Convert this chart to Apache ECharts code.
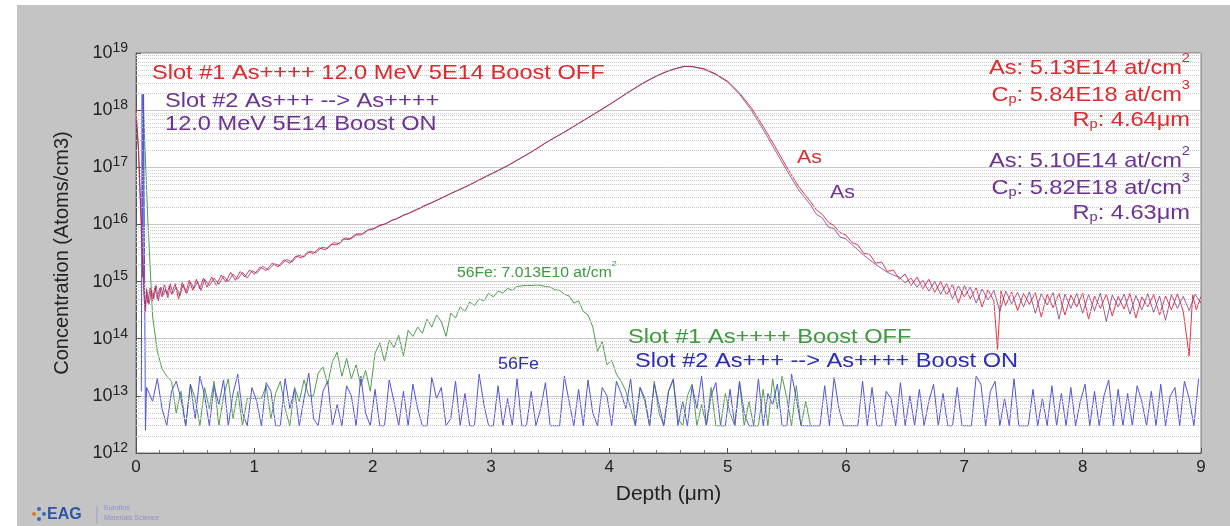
<!DOCTYPE html>
<html>
<head>
<meta charset="utf-8">
<title>As / 56Fe depth profile</title>
<script src="https://cdn.jsdelivr.net/npm/echarts@6/dist/echarts.min.js"></script>
<style>
  html, body { margin: 0; padding: 0; background: #fff; }
  #chart { width: 1230px; height: 526px; }
</style>
</head>
<body>
<div id="chart"></div>
<script>
// As profiles: [depth (um), concentration (atoms/cm3)]
var asSlot1 = [
  [0.00,1.0e18],[0.02,2.5e17],[0.04,2.0e16],[0.06,2.0e15],[0.07,6.0e14],[0.08,3.0e14],[0.09,6.5e14],
  [0.10,4.2e14],[0.12,7.8e14],[0.14,4.6e14],[0.16,8.2e14],[0.18,5.0e14],[0.20,7.6e14],[0.22,5.4e14],
  [0.24,9.0e14],[0.26,5.8e14],[0.28,8.4e14],[0.30,6.0e14],[0.33,9.2e14],[0.36,4.9e14],[0.39,9.6e14],
  [0.42,6.4e14],[0.45,1.05e15],[0.48,7.0e14],[0.51,1.1e15],[0.54,7.4e14],[0.57,1.15e15],[0.60,8.0e14],
  [0.64,1.2e15],[0.68,8.6e14],[0.72,1.3e15],[0.76,9.8e14],[0.80,1.45e15],[0.84,1.05e15],[0.88,1.5e15],
  [0.92,1.2e15],[0.96,1.6e15],[1.00,1.35e15],[1.05,1.8e15],[1.10,1.55e15],[1.15,2.1e15],[1.20,1.8e15],
  [1.25,2.4e15],[1.30,2.1e15],[1.35,2.8e15],[1.40,2.6e15],[1.45,3.3e15],[1.50,3.1e15],[1.55,3.9e15],
  [1.60,3.6e15],[1.65,4.5e15],[1.70,4.4e15],[1.75,5.6e15],[1.80,5.4e15],[1.85,6.6e15],[1.90,6.5e15],
  [1.95,7.9e15],[2.00,8.2e15],[2.05,9.5e15],[2.10,1.0e16],[2.15,1.15e16],[2.20,1.25e16],[2.25,1.42e16],
  [2.30,1.55e16],[2.35,1.75e16],[2.40,1.95e16],[2.45,2.2e16],[2.50,2.4e16],[2.60,3.0e16],[2.70,3.8e16],
  [2.80,4.7e16],[2.90,6.0e16],[3.00,7.6e16],[3.10,9.6e16],[3.20,1.25e17],[3.30,1.65e17],[3.40,2.2e17],
  [3.50,3.0e17],[3.60,3.9e17],[3.70,5.2e17],[3.80,7.0e17],[3.90,9.3e17],[4.00,1.25e18],[4.10,1.7e18],
  [4.20,2.3e18],[4.30,3.1e18],[4.40,4.0e18],[4.50,4.9e18],[4.60,5.6e18],[4.64,5.84e18],[4.70,5.8e18],
  [4.80,5.3e18],[4.90,4.3e18],[5.00,3.2e18],[5.10,2.0e18],[5.20,1.1e18],[5.30,5.2e17],[5.40,2.3e17],
  [5.50,1.0e17],[5.60,4.6e16],[5.70,2.5e16],[5.75,1.8e16],[5.80,1.5e16],[5.85,1.1e16],[5.90,9.5e15],
  [5.95,7.2e15],[6.00,6.5e15],[6.05,4.8e15],[6.10,4.4e15],[6.15,3.1e15],[6.20,3.0e15],[6.25,2.1e15],
  [6.30,2.2e15],[6.35,1.5e15],[6.40,1.6e15],[6.45,1.1e15],[6.50,1.35e15],[6.55,8.5e14],[6.60,1.2e15],
  [6.65,7.5e14],[6.70,1.1e15],[6.75,6.5e14],[6.80,1.0e15],[6.85,5.8e14],[6.90,9.0e14],[6.95,4.2e14],
  [7.00,8.5e14],[7.05,5.0e14],[7.10,7.8e14],[7.15,3.6e14],[7.20,7.2e14],[7.25,4.5e14],[7.28,6.5e13],
  [7.31,6.8e14],[7.35,3.8e14],[7.40,6.6e14],[7.45,3.1e14],[7.50,6.2e14],[7.55,4.0e14],[7.60,6.4e14],
  [7.65,2.4e14],[7.70,6.0e14],[7.75,3.5e14],[7.80,6.2e14],[7.85,2.6e14],[7.90,5.8e14],[7.95,3.6e14],
  [8.00,6.3e14],[8.05,2.2e14],[8.10,5.6e14],[8.15,3.4e14],[8.20,6.0e14],[8.25,2.5e14],[8.30,5.5e14],
  [8.35,3.3e14],[8.40,6.2e14],[8.45,2.3e14],[8.50,5.4e14],[8.55,3.6e14],[8.60,5.9e14],[8.65,2.6e14],
  [8.70,5.6e14],[8.75,3.2e14],[8.80,6.1e14],[8.85,3.0e14],[8.90,5.0e13],[8.93,5.8e14],[8.96,3.2e14],
  [9.00,5.5e14]
];

var asSlot2 = [
  [0.00,7.0e17],[0.02,2.0e17],[0.04,1.5e16],[0.06,1.2e15],[0.07,4.5e14],[0.08,3.8e14],[0.09,7.5e14],
  [0.11,4.0e14],[0.13,7.0e14],[0.15,5.0e14],[0.17,8.6e14],[0.19,4.6e14],[0.21,8.0e14],[0.23,5.8e14],
  [0.25,7.4e14],[0.27,5.2e14],[0.29,9.2e14],[0.31,6.2e14],[0.34,8.0e14],[0.37,5.6e14],[0.40,9.0e14],
  [0.43,6.2e14],[0.46,9.8e14],[0.49,7.6e14],[0.52,1.0e15],[0.55,7.0e14],[0.58,1.1e15],[0.62,8.4e14],
  [0.66,1.15e15],[0.70,9.0e14],[0.74,1.25e15],[0.78,1.0e15],[0.82,1.35e15],[0.86,1.1e15],[0.90,1.45e15],
  [0.94,1.15e15],[0.98,1.55e15],[1.02,1.4e15],[1.07,1.85e15],[1.12,1.6e15],[1.17,2.05e15],[1.22,1.9e15],
  [1.27,2.45e15],[1.32,2.2e15],[1.37,2.9e15],[1.42,2.7e15],[1.47,3.4e15],[1.52,3.2e15],[1.57,4.0e15],
  [1.62,3.8e15],[1.67,4.8e15],[1.72,4.6e15],[1.77,5.8e15],[1.82,5.6e15],[1.87,6.9e15],[1.92,6.8e15],
  [1.97,8.2e15],[2.02,8.5e15],[2.07,9.8e15],[2.12,1.05e16],[2.17,1.2e16],[2.22,1.3e16],[2.27,1.47e16],
  [2.32,1.6e16],[2.37,1.8e16],[2.42,2.0e16],[2.47,2.25e16],[2.55,2.7e16],[2.65,3.4e16],[2.75,4.2e16],
  [2.85,5.3e16],[2.95,6.8e16],[3.05,8.6e16],[3.15,1.1e17],[3.25,1.45e17],[3.35,1.9e17],[3.45,2.6e17],
  [3.55,3.4e17],[3.65,4.5e17],[3.75,6.0e17],[3.85,8.0e17],[3.95,1.08e18],[4.05,1.45e18],[4.15,2.0e18],
  [4.25,2.7e18],[4.35,3.5e18],[4.45,4.4e18],[4.55,5.3e18],[4.63,5.82e18],[4.70,5.75e18],[4.80,5.2e18],
  [4.90,4.2e18],[5.00,3.1e18],[5.10,1.9e18],[5.20,1.0e18],[5.30,4.6e17],[5.40,2.0e17],[5.50,8.8e16],
  [5.60,4.0e16],[5.70,2.2e16],[5.75,1.5e16],[5.80,1.3e16],[5.85,9.0e15],[5.90,8.4e15],[5.95,6.0e15],
  [6.00,5.6e15],[6.05,4.4e15],[6.10,3.6e15],[6.15,2.9e15],[6.20,2.4e15],[6.25,2.0e15],[6.30,1.7e15],
  [6.35,1.45e15],[6.40,1.3e15],[6.45,1.2e15],[6.50,9.5e14],[6.55,1.15e15],[6.60,8.0e14],[6.65,1.05e15],
  [6.70,6.8e14],[6.75,1.0e15],[6.80,6.0e14],[6.85,9.2e14],[6.90,5.0e14],[6.95,8.4e14],[7.00,5.4e14],
  [7.05,8.0e14],[7.10,4.2e14],[7.15,7.4e14],[7.20,4.8e14],[7.25,7.0e14],[7.30,3.0e14],[7.35,6.8e14],
  [7.40,4.1e14],[7.45,6.5e14],[7.50,3.6e14],[7.55,6.6e14],[7.60,2.8e14],[7.65,6.1e14],[7.70,3.9e14],
  [7.75,6.4e14],[7.80,2.2e14],[7.85,6.0e14],[7.90,3.4e14],[7.95,6.2e14],[8.00,2.8e14],[8.05,5.9e14],
  [8.10,3.1e14],[8.15,6.3e14],[8.20,2.0e14],[8.25,5.8e14],[8.30,3.6e14],[8.35,6.0e14],[8.40,2.7e14],
  [8.45,5.7e14],[8.50,3.2e14],[8.55,6.1e14],[8.60,2.9e14],[8.65,5.6e14],[8.70,2.1e14],[8.75,5.9e14],
  [8.80,3.4e14],[8.85,5.5e14],[8.90,3.1e14],[8.95,6.0e14],[9.00,4.2e14]
];

// 56Fe profiles on a regular depth grid, values in units of 1e12 atoms/cm3
var FE_UNIT = 1e12;
var feSlot1Start = 0.06, feSlot1Step = 0.04;
var feSlot1 = [
  1500000, 12000, 250, 60, 30, 22, 18, 5, 12, 3, 16, 9, 3, 14, 6, 18, 3, 10, 20, 4,
  12, 3, 9, 9, 9, 9, 15, 4, 11, 18, 6, 3, 14, 8, 19, 10, 10, 25, 32, 16,
  40, 58, 22, 45, 20, 35, 15, 28, 12, 55, 85, 40, 95, 70, 115, 50, 140, 110, 160, 125,
  220, 160, 260, 200, 110, 280, 230, 360, 300, 440, 380, 500, 460, 620, 540, 680, 630, 760, 700, 820,
  840, 860, 850, 870, 860, 820, 800, 720, 700, 600, 560, 420, 460, 300, 260, 160, 60, 90, 35, 42,
  24, 18, 12, 6, 3, 14, 8, 3, 18, 5, 3, 12, 20, 4, 3, 10, 16, 3, 7, 3,
  14, 3, 3, 11, 5, 3, 17, 3, 8, 3, 3, 13, 3, 20, 6, 22, 9, 3, 15, 3,
  8, 3
];

var feSlot2Head = [[0.045,12],[0.052,1900000],[0.058,1200],[0.064,1900000],[0.072,1900000],[0.08,2.5],[0.09,14]];
var feSlot2Start = 0.10, feSlot2Step = 0.04;
var feSlot2 = [
  14, 8, 20, 6, 3, 12, 18, 9, 3, 16, 4, 22, 10, 3, 15, 7, 19, 3, 11, 24, 5, 3, 14,
  8, 3, 17, 12, 3, 3, 20, 6, 13, 3, 9, 25, 4, 3, 12, 18, 3, 7, 3, 15, 10, 3, 22, 5, 3,
  13, 3, 3, 19, 8, 3, 12, 3, 16, 6, 3, 3, 21, 9, 14, 3, 4, 18, 3, 11, 3, 3, 24, 7, 3,
  3, 15, 3, 9, 3, 20, 3, 3, 12, 3, 6, 17, 3, 3, 3, 22, 8, 3, 13, 3, 19, 5, 3, 14, 10,
  3, 18, 11, 6, 20, 3, 14, 9, 3, 16, 7, 3, 12, 19, 3, 8, 3, 15, 6, 22, 3, 10, 17, 3, 3,
  13, 3, 18, 5, 3, 3, 20, 3, 11, 7, 16, 3, 3, 24, 9, 3, 3, 3, 3, 3, 15, 3, 21, 6, 3,
  3, 3, 3, 18, 3, 14, 3, 3, 12, 9, 3, 17, 3, 10, 3, 13, 3, 8, 16, 3, 11, 3, 3, 14, 3,
  3, 3, 22, 16, 3, 12, 18, 3, 9, 3, 20, 3, 3, 3, 13, 3, 9, 3, 15, 3, 11, 3, 14, 3, 8,
  16, 3, 12, 3, 10, 19, 3, 13, 3, 11, 3, 15, 8, 3, 12, 3, 16, 3, 10, 14, 3, 18, 9, 3, 20
];

var yMin = 1e12, yMax = 1e19;

function gridSeries(start, step, vals) {
  var out = [];
  for (var i = 0; i < vals.length; i++) {
    out.push([+(start + i * step).toFixed(3), vals[i] * FE_UNIT]);
  }
  return out;
}
var fe1Data = gridSeries(feSlot1Start, feSlot1Step, feSlot1);
var fe2Data = feSlot2Head.map(function (p) { return [p[0], p[1] * FE_UNIT]; })
  .concat(gridSeries(feSlot2Start, feSlot2Step, feSlot2));

// dotted minor grid lines at 2..9 x 10^n
var minorLines = [];
for (var e = 12; e < 19; e++) {
  for (var m = 2; m <= 9; m++) minorLines.push({ yAxis: m * Math.pow(10, e) });
}

var FONT = '"Liberation Sans", Arial, sans-serif';
var SX = 1.124;   // reference text is a little wide

function txt(x, y, text, color, size, align, rich) {
  return {
    type: 'text', x: x, y: y, scaleX: SX, z: 100,
    style: {
      text: text, fill: color, fontSize: size, fontFamily: FONT,
      textAlign: align || 'left', textVerticalAlign: 'top', rich: rich
    }
  };
}
function supRich(color, size) {
  return {
    n: { fill: color, fontSize: size, fontFamily: FONT, lineHeight: size + 6, verticalAlign: 'bottom' },
    u: { fill: color, fontSize: Math.round(size * 0.6), fontFamily: FONT, lineHeight: 12, verticalAlign: 'top' },
    s: { fill: color, fontSize: Math.round(size * 0.6), fontFamily: FONT, lineHeight: 10, verticalAlign: 'bottom' }
  };
}

var RED = '#dc2a2e', PURPLE = '#6c3290', GREEN = '#3e9a3e', BLUE = '#2c2cb4';

var chart = echarts.init(document.getElementById('chart'));
chart.setOption({
  animation: false,
  backgroundColor: '#fff',
  grid: { left: 136, right: 29, top: 53, bottom: 73, show: true, backgroundColor: '#fff', borderColor: '#777', borderWidth: 1 },
  graphic: [
    { type: 'rect', shape: { x: 17, y: 5, width: 1213, height: 521 }, style: { fill: '#c4c4c4' }, z: -10 },
    txt(152, 63, 'Slot #1 As++++ 12.0 MeV 5E14 Boost OFF', RED, 21),
    txt(165, 91, 'Slot #2 As+++ --> As++++', PURPLE, 21),
    txt(165, 114, '12.0 MeV 5E14 Boost ON', PURPLE, 21),
    txt(1190, 52, '{n|As: 5.13E14 at/cm}{u|2}', RED, 21, 'right', supRich(RED, 21)),
    txt(1190, 79, '{n|C}{s|p}{n|: 5.84E18 at/cm}{u|3}', RED, 21, 'right', supRich(RED, 21)),
    txt(1190, 104, '{n|R}{s|p}{n|: 4.64μm}', RED, 21, 'right', supRich(RED, 21)),
    txt(1190, 145, '{n|As: 5.10E14 at/cm}{u|2}', PURPLE, 21, 'right', supRich(PURPLE, 21)),
    txt(1190, 172, '{n|C}{s|p}{n|: 5.82E18 at/cm}{u|3}', PURPLE, 21, 'right', supRich(PURPLE, 21)),
    txt(1190, 197, '{n|R}{s|p}{n|: 4.63μm}', PURPLE, 21, 'right', supRich(PURPLE, 21)),
    txt(797, 148, 'As', RED, 19),
    txt(830, 183, 'As', PURPLE, 19),
    txt(457, 260, '{n|56Fe: 7.013E10 at/cm}{u|2}', GREEN, 14, 'left', supRich(GREEN, 14)),
    txt(628, 327, 'Slot #1 As++++ Boost OFF', GREEN, 21),
    txt(635, 351, 'Slot #2 As+++ --> As++++ Boost ON', BLUE, 21),
    txt(498, 357, '56Fe', BLUE, 16),
    // logo
    { type: 'circle', shape: { cx: 34, cy: 514, r: 2 }, style: { fill: '#e07a2a' } },
    { type: 'circle', shape: { cx: 39, cy: 509, r: 2 }, style: { fill: '#3a6ab0' } },
    { type: 'circle', shape: { cx: 39, cy: 519, r: 2 }, style: { fill: '#3a6ab0' } },
    { type: 'circle', shape: { cx: 44, cy: 514, r: 2 }, style: { fill: '#3a6ab0' } },
    { type: 'text', x: 47, y: 507, style: { text: 'EAG', fill: '#2b55a8', fontSize: 16, fontWeight: 'bold', fontFamily: FONT } },
    { type: 'line', shape: { x1: 97, y1: 506, x2: 97, y2: 524 }, style: { stroke: '#9aa0c8', lineWidth: 1 } },
    { type: 'text', x: 104, y: 505, style: { text: 'Eurofins', fill: '#8c90d0', fontSize: 7, fontFamily: FONT } },
    { type: 'text', x: 104, y: 515, style: { text: 'Materials Science', fill: '#8c90d0', fontSize: 7, fontFamily: FONT } }
  ],
  xAxis: {
    type: 'value', min: 0, max: 9, interval: 1,
    name: 'Depth (μm)', nameLocation: 'middle', nameGap: 31,
    nameTextStyle: { fontSize: 21, color: '#222', fontFamily: FONT },
    axisLine: { lineStyle: { color: '#555' } },
    axisTick: { inside: true, length: 5, lineStyle: { color: '#555' } },
    minorTick: { show: true, splitNumber: 5, length: 3, lineStyle: { color: '#777' } },
    axisLabel: { fontSize: 17, color: '#222', margin: 6, fontFamily: FONT },
    splitLine: { show: false }
  },
  yAxis: {
    type: 'log', logBase: 10, min: yMin, max: yMax,
    name: 'Concentration (Atoms/cm3)', nameLocation: 'middle', nameGap: 64, nameRotate: 90,
    nameTextStyle: { fontSize: 20, color: '#222', fontFamily: FONT },
    axisLine: { show: true, lineStyle: { color: '#555' } },
    axisTick: { show: true, inside: true, length: 5, lineStyle: { color: '#555' } },
    axisLabel: {
      margin: 8, fontFamily: FONT,
      formatter: function (v) { return '{b|10}{e|' + Math.round(Math.log10(v)) + '}'; },
      rich: {
        b: { fontSize: 18, color: '#222', fontFamily: FONT, lineHeight: 24, verticalAlign: 'middle' },
        e: { fontSize: 14, color: '#222', fontFamily: FONT, lineHeight: 12, verticalAlign: 'top' }
      }
    },
    splitLine: { show: true, lineStyle: { color: '#c8c8c8', width: 1 } }
  },
  series: [
    {
      name: 'minor grid', type: 'line', data: [], silent: true, z: 1,
      markLine: {
        silent: true, symbol: 'none', label: { show: false },
        lineStyle: { type: 'dotted', color: '#c8c8c8', width: 1 },
        data: minorLines
      }
    },
    { name: 'Slot #1 56Fe', type: 'line', data: fe1Data, showSymbol: false, z: 2,
      lineStyle: { color: '#4f9d4f', width: 1 } },
    { name: 'Slot #2 56Fe', type: 'line', data: fe2Data, showSymbol: false, z: 3,
      lineStyle: { color: '#5252d6', width: 1 } },
    { name: 'Slot #1 As', type: 'line', data: asSlot1, showSymbol: false, z: 4,
      lineStyle: { color: '#e2364a', width: 1 } },
    { name: 'Slot #2 As', type: 'line', data: asSlot2, showSymbol: false, z: 5,
      lineStyle: { color: '#7a2e7e', width: 1, opacity: 0.75 } }
  ]
});
</script>
</body>
</html>
